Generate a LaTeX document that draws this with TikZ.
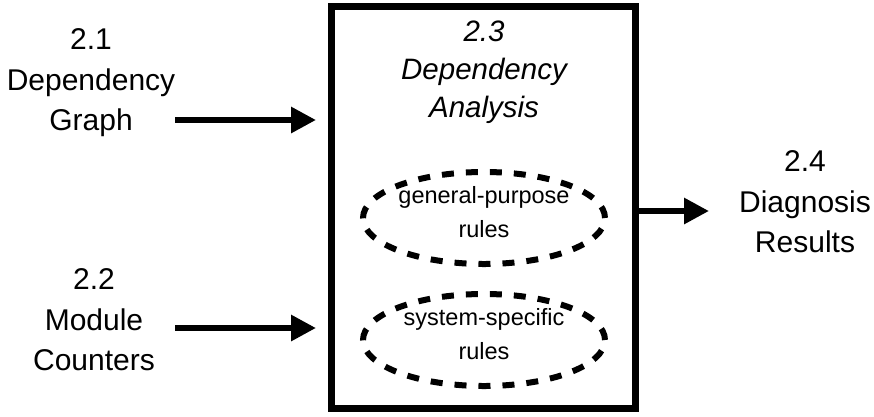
\documentclass[tikz,border=0pt]{standalone}
\usepackage{fontspec}
\setmainfont{Liberation Sans}
\usetikzlibrary{arrows.meta,shapes.geometric}
\begin{document}
\begin{tikzpicture}[x=1pt,y=-1pt,
  lbl/.style={align=center,font=\fontsize{30}{40.5}\selectfont,inner sep=0pt,anchor=north},
  rule/.style={ellipse,draw,line width=6pt,dash pattern=on 12pt off 12pt,
    minimum width=242pt,minimum height=92pt,inner sep=0pt},
  ruletext/.style={align=center,inner sep=0pt,anchor=north,
    font=\fontsize{23.5}{34}\selectfont},
  flow/.style={line width=6pt,-{Triangle[length=25pt,width=25pt]}}]
\useasboundingbox (0,0) rectangle (874,416);
\node[draw,line width=7pt,minimum width=304pt,minimum height=402pt,inner sep=0pt] (box) at (483,207) {};
\node[lbl,font=\fontsize{29.5}{38}\selectfont\itshape] (title) at (484,20.5) {2.3\\Dependency\\Analysis};
\node[rule] (gp) at (484,218) {};
\node[ruletext] (gpt) at (484,186) {general-purpose\\rules};
\node[rule] (ss) at (484,340) {};
\node[ruletext] (sst) at (484,308) {system-specific\\rules};
\node[lbl] (dg) at (91,28.5) {2.1\\Dependency\\Graph};
\node[lbl] (mc) at (94,268.5) {2.2\\Module\\Counters};
\node[lbl] (dr) at (805,150.5) {2.4\\Diagnosis\\Results};
\coordinate (a1s) at (175,120);
\coordinate (a1e) at (316,120);
\coordinate (a2s) at (175,328);
\coordinate (a2e) at (316,328);
\coordinate (a3e) at (709,211);
\draw[flow] (a1s) -- (a1e);
\draw[flow] (a2s) -- (a2e);
\draw[flow] (box.east |- a3e) -- (a3e);
\end{tikzpicture}
\end{document}
